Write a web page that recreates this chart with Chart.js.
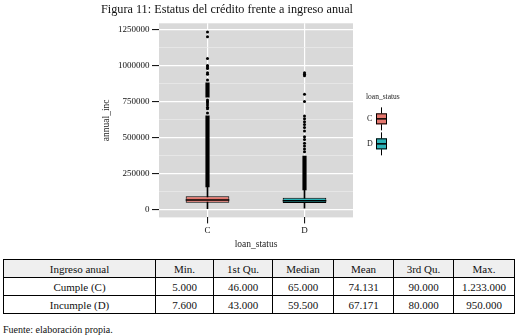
<!DOCTYPE html>
<html>
<head>
<meta charset="utf-8">
<script src="https://cdn.jsdelivr.net/npm/chart.js@4"></script>
<style>
  body { margin: 0; background: #fff; font-family: "Liberation Serif", serif; }
  #wrap { position: relative; width: 517px; height: 336px; }
  #incomeChart { position: absolute; left: 0; top: 0; }
  #statsTable {
    position: absolute; left: 3px; top: 259px; width: 511px;
    border-collapse: collapse; table-layout: fixed;
    font-size: 11px; color: #111;
  }
  #statsTable td, #statsTable th {
    border: 1px solid #000; height: 17px; padding: 0;
    text-align: center; font-weight: normal;
  }
  #statsTable th { background: #efefef; }
  #source { position: absolute; left: 3px; top: 324px; font-size: 10px; color: #111; }
</style>
</head>
<body>
<div id="wrap">
  <canvas id="incomeChart" width="517" height="252"></canvas>
  <table id="statsTable"></table>
  <div id="source">Fuente: elaboración propia.</div>
</div>
<script>
  // summary of annual_inc by loan_status
  const groups = ["C", "D"];
  const rowNames = ["Cumple (C)", "Incumple (D)"];
  const statNames = ["Min.", "1st Qu.", "Median", "Mean", "3rd Qu.", "Max."];
  const minInc = [5000, 7600];
  const q1Inc = [46000, 43000];
  const medianInc = [65000, 59500];
  const meanInc = [74131, 67171];
  const q3Inc = [90000, 80000];
  const maxInc = [1233000, 950000];
  const whiskerTop = [156000, 135500];

  // outliers: single points and the runs where the points merge into a line
  const outliersC = [maxInc[0], 1200000, 1050000, 1000000, 990000, 980000, 950000, 940000, 900000,
    760000, 750000, 740000, 725000, 710000, 700000, 670000];
  const outliersD = [maxInc[1], 940000, 930000, 800000, 750000, 650000, 630000, 610000, 590000,
    570000, 545000, 505000, 485000, 460000, 440000, 420000, 400000];
  const outlierRunsC = [[156000, 650000], [780000, 880000]];
  const outlierRunsD = [[135500, 370000]];

  const yTicks = [0, 250000, 500000, 750000, 1000000, 1250000];
  const yMinorTicks = [125000, 375000, 625000, 875000, 1125000];
  const yRange = [-56400, 1294400];

  const boxColors = ["#e5776e", "#2cb3b8"];
  const panelGrey = "#d9d9d9";

  // table below the plot
  const fmt = (n) => String(n).replace(/\B(?=(\d{3})+(?!\d))/g, ".");
  const table = document.getElementById("statsTable");
  let html = '<colgroup><col style="width:152px"><col style="width:58px"><col style="width:59px">' +
    '<col style="width:61px"><col style="width:60px"><col style="width:60px"><col style="width:61px"></colgroup>';
  html += "<tr><th>Ingreso anual</th>" + statNames.map((s) => "<th>" + s + "</th>").join("") + "</tr>";
  rowNames.forEach((name, i) => {
    const vals = [minInc[i], q1Inc[i], medianInc[i], meanInc[i], q3Inc[i], maxInc[i]];
    html += "<tr><td>" + name + "</td>" + vals.map((v) => "<td>" + fmt(v) + "</td>").join("") + "</tr>";
  });
  table.innerHTML = html;

  const serif = '"Liberation Serif", serif';

  // grey panel behind the grid
  const panelBg = {
    id: "panelBg",
    beforeDraw(chart) {
      const a = chart.chartArea;
      const ctx = chart.ctx;
      ctx.save();
      ctx.fillStyle = panelGrey;
      ctx.fillRect(a.left, a.top, a.right - a.left, a.bottom - a.top);
      ctx.restore();
    },
  };

  // legend with little boxplot keys, labels on the left
  const boxLegend = {
    id: "boxLegend",
    afterDraw(chart) {
      const a = chart.chartArea;
      const ctx = chart.ctx;
      const x = a.right + 13;
      const cy = (a.top + a.bottom) / 2;
      ctx.save();
      ctx.fillStyle = "#222";
      ctx.font = "7.5px " + serif;
      ctx.textBaseline = "middle";
      ctx.textAlign = "left";
      ctx.fillText("loan_status", x, cy - 23);
      groups.forEach((g, i) => {
        const top = cy - 7 + i * 25;
        const kx = x + 10;
        ctx.fillStyle = "#222";
        ctx.font = "8px " + serif;
        ctx.fillText(g, x + 1, top + 5.5);
        ctx.strokeStyle = "#000";
        ctx.lineWidth = 1;
        ctx.beginPath();
        ctx.moveTo(kx + 5.5, top - 6);
        ctx.lineTo(kx + 5.5, top + 17);
        ctx.stroke();
        ctx.fillStyle = boxColors[i];
        ctx.fillRect(kx, top, 11, 11);
        ctx.strokeRect(kx + 0.5, top + 0.5, 10, 10);
        ctx.lineWidth = 1.5;
        ctx.beginPath();
        ctx.moveTo(kx, top + 5.5);
        ctx.lineTo(kx + 11, top + 5.5);
        ctx.stroke();
      });
      ctx.restore();
    },
  };

  const allYTicks = yTicks.concat(yMinorTicks).sort((p, q) => p - q);
  const isMinor = (v) => yMinorTicks.includes(v);

  const config = {
    type: "bar",
    data: {
      labels: groups,
      datasets: [
        {
          label: "whisker",
          data: groups.map((g, i) => ({ x: g, y: [minInc[i], whiskerTop[i]] })),
          backgroundColor: "#000",
          barThickness: 1,
          grouped: false,
          order: 4,
        },
        {
          label: "outlier runs",
          data: outlierRunsC.map((r) => ({ x: "C", y: r }))
            .concat(outlierRunsD.map((r) => ({ x: "D", y: r }))),
          backgroundColor: "#000",
          barThickness: 3.5,
          grouped: false,
          order: 3,
        },
        {
          label: "box",
          data: groups.map((g, i) => ({ x: g, y: [q1Inc[i], q3Inc[i]] })),
          backgroundColor: boxColors,
          borderColor: "#000",
          borderWidth: 1,
          borderSkipped: false,
          barPercentage: 0.45,
          categoryPercentage: 1,
          grouped: false,
          order: 2,
        },
        {
          type: "line",
          label: "median",
          data: groups.map((g, i) => ({ x: g, y: medianInc[i] })),
          showLine: false,
          pointStyle: "line",
          pointRadius: 21.8,
          borderColor: "#000",
          borderWidth: 1.5,
          order: 1,
        },
        {
          type: "line",
          label: "outliers",
          data: outliersC.map((v) => ({ x: "C", y: v }))
            .concat(outliersD.map((v) => ({ x: "D", y: v }))),
          showLine: false,
          pointRadius: 1.5,
          backgroundColor: "#000",
          borderWidth: 0,
          order: 0,
        },
      ],
    },
    options: {
      responsive: false,
      animation: false,
      events: [],
      layout: { padding: { left: 101, right: 164, top: 0, bottom: 1.6 } },
      plugins: {
        legend: { display: false },
        tooltip: { enabled: false },
        title: {
          display: true,
          text: "Figura 11: Estatus del crédito frente a ingreso anual",
          color: "#111",
          font: { family: serif, size: 13, weight: "normal" },
          padding: { top: 1, bottom: 6.4 },
        },
      },
      scales: {
        x: {
          type: "category",
          offset: true,
          border: { display: false },
          grid: {
            offset: false,
            color: "#ffffff",
            lineWidth: 1.2,
            tickColor: "#000",
            tickLength: 6,
            tickWidth: 1,
          },
          ticks: { color: "#111", padding: 1.6, font: { family: serif, size: 9 } },
          title: {
            display: true,
            text: "loan_status",
            color: "#222",
            font: { family: serif, size: 9.5 },
            padding: { top: 1.6, bottom: 0 },
          },
        },
        y: {
          min: yRange[0],
          max: yRange[1],
          border: { display: false },
          afterBuildTicks: (axis) => {
            axis.ticks = allYTicks.map((v) => ({ value: v }));
          },
          afterFit: (axis) => {
            axis.width = 58;
          },
          grid: {
            color: (ctx) => (isMinor(ctx.tick.value) ? "#ebebeb" : "#ffffff"),
            lineWidth: (ctx) => (isMinor(ctx.tick.value) ? 0.7 : 1.2),
            tickColor: (ctx) => (isMinor(ctx.tick.value) ? "rgba(0,0,0,0)" : "#000"),
            tickLength: 7,
            tickWidth: 1,
          },
          ticks: {
            autoSkip: false,
            color: "#111",
            padding: 2.5,
            font: { family: serif, size: 9 },
            callback: (v) => (isMinor(v) ? "" : String(v)),
          },
          title: {
            display: true,
            text: "annual_inc",
            color: "#222",
            font: { family: serif, size: 9.5 },
            padding: { top: 0, bottom: 0 },
          },
        },
      },
    },
    plugins: [panelBg, boxLegend],
  };

  const incomeChart = new Chart(document.getElementById("incomeChart"), config);
</script>
</body>
</html>
